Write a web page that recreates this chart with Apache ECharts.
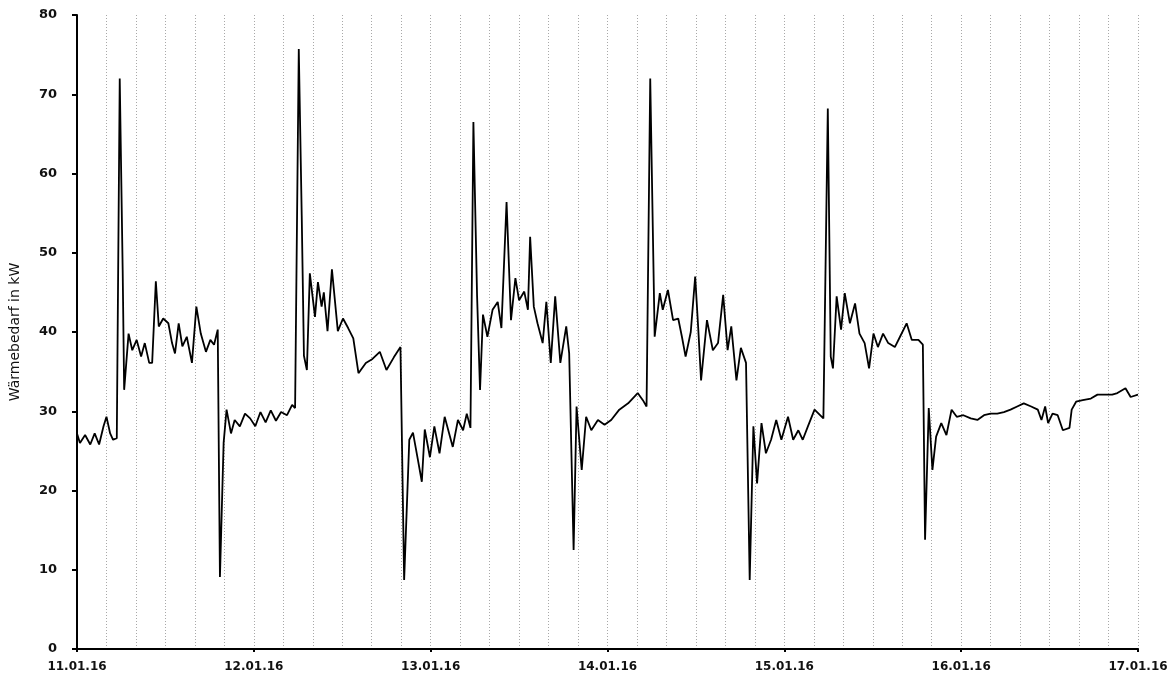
<!DOCTYPE html>
<html>
<head>
<meta charset="utf-8">
<script src="https://cdn.jsdelivr.net/npm/echarts@6/dist/echarts.min.js"></script>
<style>
  html, body { margin: 0; padding: 0; background: #fff; }
  #chart { width: 1168px; height: 677px; }
</style>
</head>
<body>
<div id="chart"></div>
<script>
// Tage auf der x-Achse
var dayLabels = ['11.01.16', '12.01.16', '13.01.16', '14.01.16', '15.01.16', '16.01.16', '17.01.16'];
var yTicks = [0, 10, 20, 30, 40, 50, 60, 70, 80];

// Stunden seit 11.01.16 00:00
var hours = [
  0, 0.4, 1.1, 1.8, 2.4, 3.0, 3.6, 4.0, 4.5, 4.9, 5.4, 5.8, 6.2, 6.4, 7.0, 7.5, 8.1, 8.7, 9.2, 9.8,
  10.2, 10.7, 11.1, 11.7, 12.4, 12.9, 13.3, 13.8, 14.3, 14.9, 15.6, 16.2, 16.8, 17.5, 18.1, 18.6, 19.1, 19.4, 19.9, 20.3,
  20.9, 21.4, 22.1, 22.8, 23.5, 24.2, 24.9, 25.6, 26.3, 27.0, 27.7, 28.5, 29.2, 29.6, 30.1, 30.5, 30.8, 31.2, 31.6, 32.3,
  32.7, 33.2, 33.5, 34.0, 34.6, 35.4, 36.1, 36.8, 37.5, 38.2, 39.2, 40.1, 41.1, 42.0, 43.0, 43.9, 44.4, 45.1, 45.6, 46.3,
  46.8, 47.2, 47.9, 48.5, 49.2, 49.9, 51.0, 51.7, 52.4, 52.9, 53.4, 53.8, 54.3, 54.7, 55.1, 55.7, 56.4, 57.1, 57.6, 58.3,
  58.9, 59.5, 60.0, 60.7, 61.2, 61.5, 62.0, 62.5, 63.2, 63.7, 64.3, 64.9, 65.6, 66.4, 66.8, 67.4, 67.8, 68.5, 69.1, 69.8,
  70.7, 71.6, 72.5, 73.6, 74.8, 76.1, 76.8, 77.3, 77.8, 78.4, 79.1, 79.5, 80.2, 80.9, 81.6, 82.1, 82.6, 83.3, 83.9, 84.3,
  84.7, 85.5, 86.3, 87.0, 87.7, 88.3, 88.8, 89.5, 90.1, 90.8, 91.3, 91.8, 92.3, 92.9, 93.5, 94.2, 94.9, 95.6, 96.5, 97.2,
  97.9, 98.5, 99.2, 100.1, 101.3, 101.9, 102.3, 102.6, 103.1, 103.7, 104.2, 104.9, 105.6, 106.2, 106.9, 107.5, 108.1, 108.7, 109.4, 110.1,
  111.0, 111.7, 112.6, 113.3, 114.2, 114.8, 115.1, 115.6, 116.1, 116.6, 117.3, 118.0, 118.7, 119.4, 120.3, 121.3, 122.2, 123.1, 124.0, 124.9,
  125.8, 126.7, 127.6, 128.5, 129.5, 130.4, 130.9, 131.4, 131.8, 132.4, 133.1, 133.8, 134.7, 135.0, 135.6, 136.5, 137.6, 138.5, 139.6, 140.5,
  141.2, 142.3, 143.0, 144.0
];

// Wärmebedarf in kW
var heatDemand = [
  27.2, 26.0, 27.0, 25.8, 27.2, 25.8, 28.1, 29.3, 27.2, 26.4, 26.6, 72.0, 47.8, 32.7, 39.8, 37.7, 39.0, 36.9, 38.6, 36.1,
  36.1, 46.4, 40.7, 41.7, 41.1, 38.6, 37.3, 41.1, 38.2, 39.4, 36.1, 43.2, 39.8, 37.5, 39.0, 38.4, 40.3, 9.1, 26.0, 30.2,
  27.2, 28.9, 28.1, 29.7, 29.1, 28.1, 29.9, 28.6, 30.1, 28.8, 29.9, 29.5, 30.8, 30.4, 75.7, 54.7, 37.0, 35.2, 47.4, 41.9,
  46.3, 43.2, 45.0, 40.1, 47.9, 40.1, 41.7, 40.5, 39.2, 34.8, 36.1, 36.6, 37.5, 35.2, 36.8, 38.1, 8.7, 26.4, 27.3, 23.7,
  21.1, 27.7, 24.2, 28.1, 24.7, 29.3, 25.5, 28.9, 27.6, 29.7, 27.9, 66.5, 44.5, 32.7, 42.2, 39.4, 42.8, 43.8, 40.5, 56.4,
  41.5, 46.8, 44.0, 45.1, 42.8, 52.0, 43.2, 41.1, 38.6, 43.8, 36.1, 44.5, 36.1, 40.7, 37.3, 12.5, 30.6, 22.6, 29.3, 27.6,
  28.9, 28.3, 28.9, 30.2, 31.0, 32.3, 31.4, 30.6, 72.0, 39.4, 44.9, 42.8, 45.3, 41.5, 41.7, 39.4, 36.9, 40.0, 47.0, 40.7,
  33.9, 41.5, 37.7, 38.6, 44.7, 37.7, 40.7, 33.9, 38.0, 36.1, 8.7, 28.1, 20.9, 28.5, 24.7, 26.4, 28.9, 26.4, 29.3, 26.4,
  27.6, 26.4, 28.1, 30.2, 29.1, 68.2, 36.9, 35.4, 44.5, 40.3, 44.9, 41.1, 43.6, 39.8, 38.6, 35.4, 39.8, 38.1, 39.8, 38.6,
  38.1, 39.4, 41.1, 39.0, 39.0, 38.4, 13.8, 30.4, 22.6, 26.8, 28.5, 27.0, 30.2, 29.3, 29.5, 29.1, 28.9, 29.5, 29.7, 29.7,
  29.9, 30.2, 30.6, 31.0, 30.6, 30.2, 28.9, 30.6, 28.5, 29.7, 29.5, 27.6, 27.9, 30.2, 31.2, 31.4, 31.6, 32.1, 32.1, 32.1,
  32.3, 32.9, 31.8, 32.1
];

var seriesData = hours.map(function (h, i) { return [h, heatDemand[i]]; });

var myChart = echarts.init(document.getElementById('chart'));

var labelFont = {
    fontFamily: 'DejaVu Sans',
    fontWeight: 'bold',
    fontSize: 13,
    color: '#111'
};

var option = {
    backgroundColor: '#fff',
    animation: false,
    grid: { left: 77, right: 30, top: 15, bottom: 28, containLabel: false, outerBoundsMode: 'none' },
    xAxis: [{
        type: 'value',
        min: 0,
        max: 144,
        interval: 24,
        axisLine: { show: true, onZero: false, lineStyle: { color: '#000', width: 2 } },
        axisTick: { show: true, length: 3, lineStyle: { color: '#000', width: 2 } },
        axisLabel: Object.assign({}, labelFont, {
            fontSize: 12,
            margin: 12,
            showMaxLabel: true,
            formatter: function (v) { return dayLabels[Math.round(v / 24)]; }
        }),
        splitLine: { show: false },
        z: 3
    }, {
        // gestrichelte Raster alle 4 Stunden
        type: 'value',
        min: 0,
        max: 144,
        interval: 4,
        position: 'bottom',
        axisLine: { show: false },
        axisTick: { show: false },
        axisLabel: { show: false },
        splitLine: { show: true, lineStyle: { color: '#a8a8a8', type: [1, 2], width: 1 } }
    }],
    yAxis: {
        type: 'value',
        min: yTicks[0],
        max: yTicks[yTicks.length - 1],
        interval: 10,
        name: 'Wärmebedarf in kW',
        nameLocation: 'middle',
        nameGap: 55,
        nameTextStyle: { fontFamily: 'DejaVu Sans', fontSize: 14, color: '#111' },
        axisLine: { show: true, lineStyle: { color: '#000', width: 2 } },
        axisTick: { show: true, length: 5, lineStyle: { color: '#000', width: 2 } },
        axisLabel: Object.assign({ margin: 20 }, labelFont),
        splitLine: { show: false }
    },
    series: [{
        type: 'line',
        data: seriesData,
        showSymbol: false,
        symbol: 'none',
        lineStyle: { color: '#000', width: 1.8 },
        z: 5
    }]
};

myChart.setOption(option);
</script>
</body>
</html>
